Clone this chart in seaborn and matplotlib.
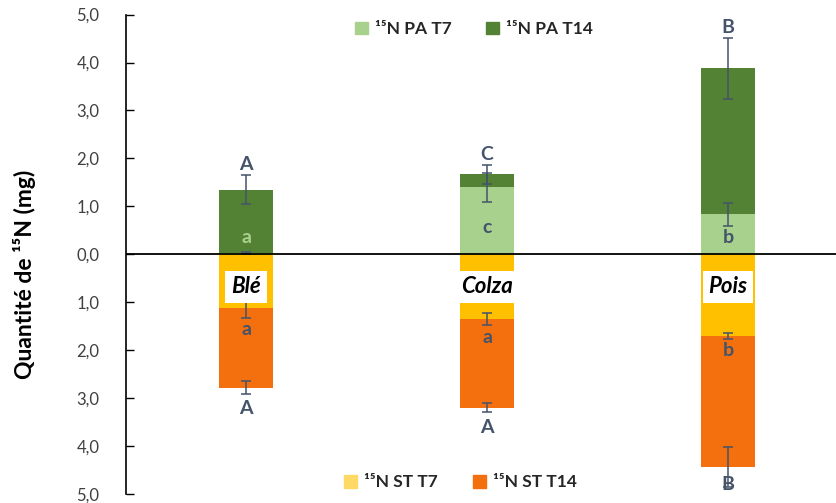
import numpy as np
import pandas as pd
import matplotlib
matplotlib.use("Agg")
import matplotlib.pyplot as plt
import seaborn as sns
from matplotlib.patches import Patch

# Data
cultures = ["Blé", "Colza", "Pois"]
pa_t7 = [0.02, 1.40, 0.83]
pa_t14 = [1.33, 0.27, 3.05]
pa_t7_err = [0.02, 0.30, 0.23]
pa_t14_err = [0.31, 0.20, 0.64]
st_t7 = [1.13, 1.35, 1.70]
st_t14 = [1.65, 1.85, 2.74]
st_t7_err = [0.19, 0.13, 0.06]
st_t14_err = [0.14, 0.10, 0.41]
pa_up_letters = ["A", "C", "B"]
pa_low_letters = ["a", "c", "b"]
st_low_letters = ["a", "a", "b"]
st_up_letters = ["A", "A", "B"]
yticks = [-5, -4, -3, -2, -1, 0, 1, 2, 3, 4, 5]

c_pa7 = "#A9D18E"
c_pa14 = "#548235"
c_st7 = "#FFC000"
c_st14 = "#F4700F"
c_txt = "#44546A"

sns.set_style("white")
plt.rcParams["font.family"] = ["Lato", "DejaVu Sans"]

df = pd.DataFrame({"culture": cultures,
                   "pa_t7": pa_t7, "pa_t14": pa_t14,
                   "st_t7": st_t7, "st_t14": st_t14})
df["pa_tot"] = df["pa_t7"] + df["pa_t14"]
df["st_tot"] = df["st_t7"] + df["st_t14"]
df["st_tot_neg"] = -df["st_tot"]
df["st_t7_neg"] = -df["st_t7"]

fig = plt.figure(figsize=(8.37, 5.03), dpi=100)
ax = fig.add_axes([0.1505, 0.018, 0.8495, 0.953])

bw = 0.224
bar_kw = dict(saturation=1, width=bw, ax=ax, errorbar=None, linewidth=0, edgecolor="none")
sns.barplot(data=df, x="culture", y="pa_tot", color=c_pa14, **bar_kw)
sns.barplot(data=df, x="culture", y="pa_t7", color=c_pa7, **bar_kw)
sns.barplot(data=df, x="culture", y="st_tot_neg", color=c_st14, **bar_kw)
sns.barplot(data=df, x="culture", y="st_t7_neg", color=c_st7, **bar_kw)

pos = np.arange(len(cultures))
eb = dict(fmt="none", ecolor=c_txt, elinewidth=1.1, capsize=3.5, capthick=1.1, zorder=4)
ax.errorbar(pos, df["pa_t7"], yerr=pa_t7_err, **eb)
ax.errorbar(pos, df["pa_tot"], yerr=pa_t14_err, **eb)
ax.errorbar(pos, -df["st_t7"], yerr=st_t7_err, **eb)
ax.errorbar(pos, -df["st_tot"], yerr=st_t14_err, **eb)

ax.axhline(0, color="black", lw=1.3, zorder=5)

# significance letters
lt = dict(ha="center", fontsize=14, fontweight="bold", color=c_txt, clip_on=False, zorder=6)
for i in range(len(cultures)):
    ax.text(i, df["pa_tot"][i] + pa_t14_err[i] + 0.04, pa_up_letters[i], va="bottom", **lt)
    y_low = max((pa_t7[i] - pa_t7_err[i]) / 2, 0.36)
    col = c_pa7 if pa_t7[i] < 0.1 else c_txt
    ax.text(i, y_low, pa_low_letters[i], va="center", **{**lt, "color": col})
    ax.text(i, -(st_t7[i] + st_t7_err[i]) - 0.08, st_low_letters[i], va="top", **lt)
    y_up = max(-(df["st_tot"][i] + st_t14_err[i]) - 0.13, -4.62)
    ax.text(i, y_up, st_up_letters[i], va="top", **lt)
    ax.text(i, -0.68, cultures[i], ha="center", va="center", fontsize=16, fontweight="bold",
            style="italic", color="black", zorder=7,
            bbox=dict(boxstyle="square,pad=0.26", fc="white", ec="none"))

ax.set_ylim(-5, 5)
ax.set_xlim(-0.498, 2.452)
ax.set_yticks(yticks)
ax.set_yticklabels([f"{abs(v):.1f}".replace(".", ",") for v in yticks], fontsize=12, color="#404040")
ax.set_xticks([])
ax.set_xlabel("")
ax.set_ylabel("")
ax.tick_params(axis="y", direction="in", length=6, width=1, color="black", left=True, pad=19)
for s in ["top", "right", "bottom"]:
    ax.spines[s].set_visible(False)
ax.spines["left"].set_color("black")
ax.spines["left"].set_linewidth(1.2)

fig.text(0.029, 0.455, "Quantité de ¹⁵N (mg)", rotation=90, ha="center", va="center",
         fontsize=16.5, fontweight="bold", color="black")

lg_kw = dict(ncol=2, frameon=False, handlelength=0.75, handleheight=0.75, handletextpad=0.4,
             columnspacing=2.0, prop={"weight": "bold", "size": 12.5})
h_top = [Patch(color=c_pa7, label="¹⁵N PA T7"), Patch(color=c_pa14, label="¹⁵N PA T14")]
h_bot = [Patch(color="#FFD966", label="¹⁵N ST T7"), Patch(color=c_st14, label="¹⁵N ST T14")]
leg1 = fig.legend(handles=h_top, loc="center", bbox_to_anchor=(0.566, 0.942), **lg_kw)
leg2 = fig.legend(handles=h_bot, loc="center", bbox_to_anchor=(0.550, 0.041), **lg_kw)
for lg in (leg1, leg2):
    for t in lg.get_texts():
        t.set_color("#262626")

fig.savefig("out.png", dpi=100)
